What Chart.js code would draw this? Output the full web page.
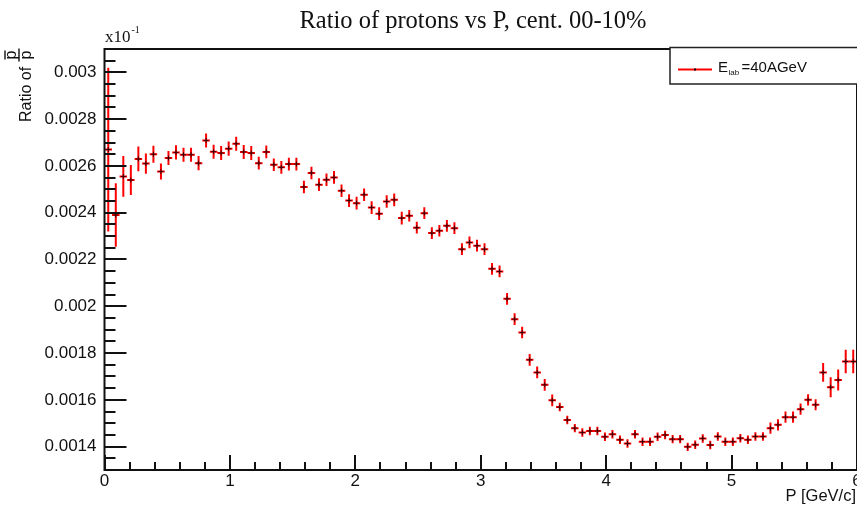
<!DOCTYPE html>
<html><head><meta charset="utf-8">
<script src="https://cdn.jsdelivr.net/npm/chart.js@4.4.0/dist/chart.umd.min.js"></script>
<style>
html,body{margin:0;padding:0;background:#fff;overflow:hidden;width:857px;height:508px}
#wrap{position:absolute;left:0;top:0;width:862px;height:508px}
canvas{display:block}
</style>
</head><body><div id="wrap"><canvas id="c" width="862" height="508"></canvas></div>
<script>
const titleText = 'Ratio of protons vs P, cent. 00-10%';
const xTitle = 'P [GeV/c]';
const yTitleMain = 'Ratio of';
const yTitleFrac = ['p', 'p'];
const axisMultiplier = ['x10', '-1'];
const legendParts = ['E', 'lab', '=40AGeV'];

const xTickValues = [0, 1, 2, 3, 4, 5, 6];
const xTickLabels = ['0', '1', '2', '3', '4', '5', '6'];
const yTickValues = [0.0014, 0.0016, 0.0018, 0.002, 0.0022, 0.0024, 0.0026, 0.0028, 0.003];
const yTickLabels = ['0.0014', '0.0016', '0.0018', '0.002', '0.0022', '0.0024', '0.0026', '0.0028', '0.003'];

const binHalfWidth = 0.03;
const pCenters = [
 0.03,0.09,0.15,0.21,0.27,0.33,0.39,0.45,0.51,0.57,
 0.63,0.69,0.75,0.81,0.87,0.93,0.99,1.05,1.11,1.17,
 1.23,1.29,1.35,1.41,1.47,1.53,1.59,1.65,1.71,1.77,
 1.83,1.89,1.95,2.01,2.07,2.13,2.19,2.25,2.31,2.37,
 2.43,2.49,2.55,2.61,2.67,2.73,2.79,2.85,2.91,2.97,
 3.03,3.09,3.15,3.21,3.27,3.33,3.39,3.45,3.51,3.57,
 3.63,3.69,3.75,3.81,3.87,3.93,3.99,4.05,4.11,4.17,
 4.23,4.29,4.35,4.41,4.47,4.53,4.59,4.65,4.71,4.77,
 4.83,4.89,4.95,5.01,5.07,5.13,5.19,5.25,5.31,5.37,
 5.43,5.49,5.55,5.61,5.67,5.73,5.79,5.85,5.91,5.97
];
const ratio = [
 0.00267,0.00239,0.002555,0.00254,0.00263,0.00261,0.00265,0.002576,0.002634,0.002658,
 0.002648,0.002648,0.002612,0.002709,0.002661,0.002655,0.002674,0.002695,0.00266,0.002655,
 0.002612,0.00266,0.002605,0.002594,0.002608,0.002608,0.00251,0.00257,0.00252,0.002541,
 0.002551,0.002494,0.002452,0.002441,0.002477,0.002422,0.002396,0.002448,0.002455,0.002377,
 0.002387,0.002336,0.002398,0.002313,0.002323,0.002344,0.002334,0.002244,0.002273,0.002259,
 0.002244,0.00216,0.002149,0.002032,0.001945,0.001888,0.001771,0.001717,0.001664,0.001598,
 0.001569,0.001514,0.001479,0.00146,0.001467,0.001467,0.001442,0.001453,0.001429,0.001413,
 0.001453,0.001421,0.001421,0.001442,0.00145,0.001432,0.001432,0.001399,0.001408,0.001435,
 0.001407,0.001443,0.001421,0.001421,0.001436,0.001429,0.001443,0.001443,0.001479,0.001493,
 0.001526,0.001526,0.00156,0.0016,0.001579,0.001717,0.001654,0.001685,0.001764,0.001764
];
const ratioErr = [
 0.00035,0.000136,0.000087,0.000064,0.000053,0.000043,0.000036,0.000034,0.00003,0.00003,
 0.00003,0.00003,0.00003,0.00003,0.00003,0.00003,0.00003,0.00003,0.00003,0.00003,
 0.000027,0.000027,0.000027,0.000027,0.000027,0.000027,0.000027,0.000027,0.000027,0.000027,
 0.000027,0.000027,0.000027,0.000027,0.000027,0.000027,0.000027,0.000027,0.000027,0.000027,
 0.000025,0.000025,0.000025,0.000025,0.000025,0.000025,0.000025,0.000025,0.000025,0.000025,
 0.000025,0.000025,0.000025,0.000025,0.000025,0.000025,0.000025,0.000025,0.000025,0.000025,
 0.000018,0.000018,0.000018,0.000018,0.000018,0.000018,0.000018,0.000018,0.000018,0.000018,
 0.000018,0.000018,0.000018,0.000018,0.000018,0.000018,0.000018,0.000018,0.000018,0.000018,
 0.000018,0.000018,0.000018,0.000018,0.000018,0.000018,0.000018,0.000018,0.000024,0.000024,
 0.000024,0.000024,0.000024,0.000024,0.000024,0.00004,0.000043,0.000045,0.00005,0.00005
];

const SANS = '"Liberation Sans", Arial, Helvetica, sans-serif';
const SERIF = '"Liberation Serif", "Times New Roman", serif';

const rootPlugin = {
  id: 'rootStyle',
  beforeDatasetsDraw(chart) {
    const {ctx, chartArea: a, scales: {x, y}} = chart;
    ctx.save();
    ctx.strokeStyle = '#ff0000';
    ctx.lineWidth = 2;
    ctx.beginPath();
    pCenters.forEach((p, i) => {
      const px = x.getPixelForValue(p);
      const py = y.getPixelForValue(ratio[i]);
      const yLo = Math.min(y.getPixelForValue(ratio[i] - ratioErr[i]), a.bottom);
      const yHi = Math.max(y.getPixelForValue(ratio[i] + ratioErr[i]), a.top);
      ctx.moveTo(px, yLo); ctx.lineTo(px, yHi);
      ctx.moveTo(x.getPixelForValue(p - binHalfWidth), py);
      ctx.lineTo(x.getPixelForValue(p + binHalfWidth), py);
    });
    ctx.stroke();
    ctx.restore();
  },
  afterDraw(chart) {
    const {ctx, chartArea: a, scales: {x, y}} = chart;
    ctx.save();
    // frame
    ctx.strokeStyle = '#111';
    ctx.lineWidth = 2;
    ctx.strokeRect(a.left, a.top, a.right - a.left, a.bottom - a.top);
    // y ticks (inside)
    ctx.beginPath();
    for (let k = 0; k <= 36; k++) {
      const v = 0.0013 + k * 0.00005;
      const py = Math.round(y.getPixelForValue(v));
      ctx.moveTo(a.left, py); ctx.lineTo(a.left + 11, py);
    }
    yTickValues.forEach(v => {
      const py = Math.round(y.getPixelForValue(v));
      ctx.moveTo(a.left, py); ctx.lineTo(a.left + 22, py);
    });
    // x ticks (inside)
    for (let k = 0; k <= 30; k++) {
      const px = Math.round(x.getPixelForValue(k * 0.2));
      ctx.moveTo(px, a.bottom); ctx.lineTo(px, a.bottom - 8);
    }
    xTickValues.forEach(v => {
      const px = Math.round(x.getPixelForValue(v));
      ctx.moveTo(px, a.bottom); ctx.lineTo(px, a.bottom - 15);
    });
    ctx.stroke();

    // title
    ctx.fillStyle = '#111';
    ctx.font = '24.5px ' + SERIF;
    ctx.textAlign = 'center';
    ctx.textBaseline = 'alphabetic';
    ctx.fillText(titleText, 473, 28);

    // multiplier x10^-1
    ctx.textAlign = 'left';
    ctx.font = '17px ' + SERIF;
    ctx.fillText(axisMultiplier[0], 105, 42);
    const w10 = ctx.measureText(axisMultiplier[0]).width;
    ctx.font = '10px ' + SERIF;
    ctx.fillText(axisMultiplier[1], 105 + w10 + 1, 33);

    // x title
    ctx.font = '16.5px ' + SANS;
    ctx.textAlign = 'right';
    ctx.fillText(xTitle, 856, 501);
    ctx.textAlign = 'left';

    // y title (rotated)
    ctx.save();
    ctx.translate(31, 122);
    ctx.rotate(-Math.PI / 2);
    ctx.font = '16px ' + SANS;
    ctx.textAlign = 'left';
    ctx.fillText(yTitleMain, 0, 0);
    const wMain = ctx.measureText(yTitleMain + ' ').width;
    ctx.font = '16px ' + SANS;
    const wp = ctx.measureText('p').width;
    const u0 = wMain + 1;
    ctx.fillText(yTitleFrac[1], u0 + 2, 0);
    ctx.fillText(yTitleFrac[0], u0 + 2, -15);
    ctx.lineWidth = 1.4;
    ctx.strokeStyle = '#111';
    ctx.beginPath();
    ctx.moveTo(u0, -12); ctx.lineTo(u0 + wp + 4, -12);
    ctx.moveTo(u0 + 2, -26); ctx.lineTo(u0 + wp + 2, -26);
    ctx.stroke();
    ctx.restore();

    // legend
    const lx = 670, ly = 47.5, lb = 84;
    ctx.textAlign = 'left';
    ctx.fillStyle = '#fff';
    ctx.fillRect(lx, ly, 230, lb - ly);
    ctx.strokeStyle = '#222';
    ctx.lineWidth = 1.5;
    ctx.strokeRect(lx, ly, 230, lb - ly);
    ctx.strokeStyle = '#ff0000';
    ctx.lineWidth = 2;
    ctx.beginPath(); ctx.moveTo(678, 69.5); ctx.lineTo(712, 69.5); ctx.stroke();
    ctx.fillStyle = '#000';
    ctx.fillRect(694, 68.5, 2, 2);
    ctx.fillStyle = '#111';
    ctx.font = '15px ' + SANS;
    ctx.fillText(legendParts[0], 718, 72);
    ctx.font = '8px ' + SANS;
    ctx.fillText(legendParts[1], 728.5, 75);
    ctx.font = '15px ' + SANS;
    ctx.fillText(legendParts[2], 741.5, 72);
    ctx.restore();
  }
};

new Chart(document.getElementById('c').getContext('2d'), {
  type: 'scatter',
  data: {
    datasets: [{
      label: 'E_lab=40AGeV',
      data: pCenters.map((p, i) => ({x: p, y: ratio[i]})),
      pointStyle: 'cross',
      pointRadius: 2.5,
      pointBorderWidth: 1,
      pointBorderColor: '#330000',
      pointBackgroundColor: '#330000',
      showLine: false
    }]
  },
  options: {
    responsive: false,
    animation: false,
    devicePixelRatio: 1,
    events: [],
    layout: {padding: {left: 0, right: 3, top: 49, bottom: 0}},
    plugins: {legend: {display: false}, tooltip: {enabled: false}, title: {display: false}},
    scales: {
      x: {
        type: 'linear', min: 0, max: 6,
        afterBuildTicks: s => { s.ticks = xTickValues.map(v => ({value: v})); },
        afterFit: s => { s.height = 38; s.paddingLeft = 0; s.paddingRight = 0; },
        grid: {display: false, drawTicks: false},
        border: {display: false},
        ticks: {padding: 1, color: '#111', maxRotation: 0, autoSkip: false,
          font: {family: SANS, size: 17},
          callback: (v, i) => xTickLabels[i]}
      },
      y: {
        type: 'linear', min: 0.0013, max: 0.0031,
        afterBuildTicks: s => { s.ticks = yTickValues.map(v => ({value: v})); },
        afterFit: s => { s.width = 104.5; s.paddingTop = 0; s.paddingBottom = 0; },
        grid: {display: false, drawTicks: false},
        border: {display: false},
        ticks: {padding: 8, color: '#111', autoSkip: false,
          font: {family: SANS, size: 17},
          callback: (v, i) => yTickLabels[i]}
      }
    }
  },
  plugins: [rootPlugin]
});
</script>
</body></html>
